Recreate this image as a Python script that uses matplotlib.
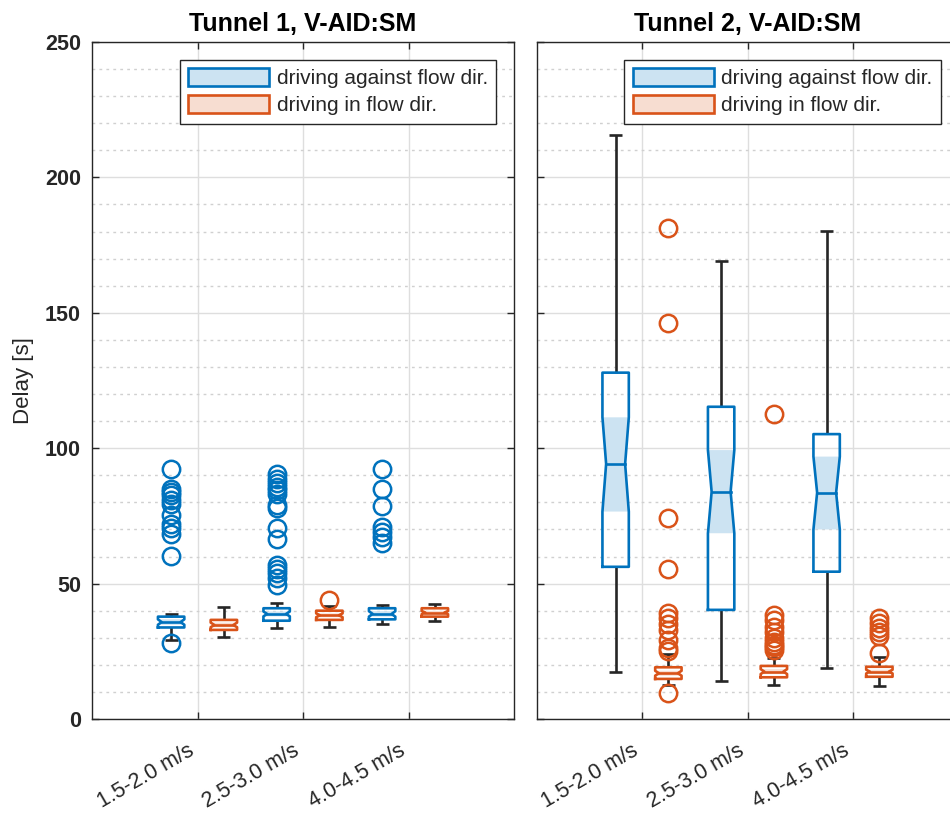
import matplotlib
matplotlib.use("Agg")
from matplotlib import pyplot as plt
from matplotlib.patches import Patch
from matplotlib.ticker import MultipleLocator
from matplotlib.transforms import ScaledTranslation

plt.rcParams['font.family'] = ['Liberation Sans', 'DejaVu Sans']

blue = '#0072BD'
orange = '#D95319'
blue_fill = '#CCE3F2'
orange_fill = '#F7DDD1'
dark = '#262626'

categories = ['1.5-2.0 m/s', '2.5-3.0 m/s', '4.0-4.5 m/s']
titles = ['Tunnel 1, V-AID:SM', 'Tunnel 2, V-AID:SM']
series_names = ['driving against flow dir.', 'driving in flow dir.']

# box summaries, per panel, per speed class
# tunnel 1, against flow
t1_against_q1 = [33.8, 36.3, 36.8]
t1_against_med = [35.8, 38.8, 38.8]
t1_against_q3 = [37.8, 40.9, 40.9]
t1_against_nlo = [34.8, 37.9, 37.8]
t1_against_nhi = [36.8, 39.7, 39.8]
t1_against_wlo = [29.2, 33.7, 35.1]
t1_against_whi = [38.6, 42.7, 42.1]
t1_against_out = [
    [28.0, 60.3, 68.5, 70.5, 72.0, 75.3, 79.5, 81.0, 82.7, 84.0, 85.0, 92.5],
    [49.5, 52.0, 54.0, 55.5, 57.0, 66.5, 70.5, 78.0, 79.0, 83.0, 84.5, 85.5, 87.0, 88.5, 90.5],
    [65.1, 67.3, 69.2, 70.8, 78.7, 84.8, 92.5],
]
# tunnel 1, in flow
t1_with_q1 = [32.9, 36.6, 37.8]
t1_with_med = [34.7, 38.3, 39.3]
t1_with_q3 = [36.6, 40.0, 40.9]
t1_with_nlo = [33.9, 37.6, 38.7]
t1_with_nhi = [35.6, 39.0, 39.9]
t1_with_wlo = [30.2, 34.1, 36.3]
t1_with_whi = [41.2, 41.8, 42.5]
t1_with_out = [[], [44.0], []]
# tunnel 2, against flow
t2_against_q1 = [56.2, 40.3, 54.4]
t2_against_med = [94.2, 83.9, 83.6]
t2_against_q3 = [127.9, 115.3, 105.2]
t2_against_nlo = [76.6, 68.6, 70.0]
t2_against_nhi = [111.4, 99.3, 96.9]
t2_against_wlo = [17.5, 14.0, 18.7]
t2_against_whi = [215.7, 169.1, 180.3]
t2_against_out = [[], [], []]
# tunnel 2, in flow
t2_with_q1 = [14.8, 15.4, 15.6]
t2_with_med = [16.9, 17.5, 17.5]
t2_with_q3 = [19.1, 19.6, 19.3]
t2_with_nlo = [16.0, 16.6, 16.8]
t2_with_nhi = [17.8, 18.4, 18.2]
t2_with_wlo = [12.5, 12.6, 12.2]
t2_with_whi = [23.9, 22.4, 22.8]
t2_with_out = [
    [9.5, 25.2, 26.1, 29.2, 32.9, 35.0, 37.2, 39.0, 55.4, 74.1, 146.3, 181.2],
    [25.5, 26.5, 27.3, 28.5, 29.8, 32.2, 34.1, 36.6, 38.4, 112.6],
    [24.5, 30.6, 32.2, 33.5, 35.3, 37.2],
]

panels = [
    [(t1_against_q1, t1_against_med, t1_against_q3, t1_against_nlo, t1_against_nhi,
      t1_against_wlo, t1_against_whi, t1_against_out),
     (t1_with_q1, t1_with_med, t1_with_q3, t1_with_nlo, t1_with_nhi,
      t1_with_wlo, t1_with_whi, t1_with_out)],
    [(t2_against_q1, t2_against_med, t2_against_q3, t2_against_nlo, t2_against_nhi,
      t2_against_wlo, t2_against_whi, t2_against_out),
     (t2_with_q1, t2_with_med, t2_with_q3, t2_with_nlo, t2_with_nhi,
      t2_with_wlo, t2_with_whi, t2_with_out)],
]

box_w = 0.25
offsets = [-0.25, 0.25]
colors = [blue, orange]
fills = [blue_fill, orange_fill]
lw = 1.9


def draw_box(ax, x, q1, med, q3, nlo, nhi, wlo, whi, outs, col, fcol):
    l, r = x - box_w / 2, x + box_w / 2
    nl, nr = x - box_w / 2 * 0.72, x + box_w / 2 * 0.72
    # notch shading
    ax.fill([l, r, nr, r, l, nl], [nhi, nhi, med, nlo, nlo, med],
            color=fcol, lw=0, zorder=2)
    # whiskers and caps
    ax.vlines(x, q3, whi, color=dark, lw=lw, zorder=3)
    ax.vlines(x, wlo, q1, color=dark, lw=lw, zorder=3)
    ax.hlines([wlo, whi], x - box_w / 4, x + box_w / 4, color=dark, lw=lw, zorder=3)
    # notched outline
    ax.plot([l, r, r, nr, r, r, l, l, nl, l, l],
            [q1, q1, nlo, med, nhi, q3, q3, nhi, med, nlo, q1],
            color=col, lw=lw, zorder=4)
    ax.plot([nl, nr], [med, med], color=col, lw=lw, zorder=4)
    if outs:
        ax.plot([x] * len(outs), outs, 'o', ms=12.5, mfc='none', mec=col,
                mew=1.8, zorder=5, clip_on=False)


fig = plt.figure(figsize=(9.5, 8.15), dpi=100)
ax1 = fig.add_axes([92 / 950, 1 - 719 / 815, 422 / 950, 677 / 815])
ax2 = fig.add_axes([536.5 / 950, 1 - 719 / 815, 422 / 950, 677 / 815])

shift = ScaledTranslation(8 / 100, 0, fig.dpi_scale_trans)

for k, ax in enumerate([ax1, ax2]):
    for s, ser in enumerate(panels[k]):
        q1, med, q3, nlo, nhi, wlo, whi, outs = ser
        for i in range(len(categories)):
            draw_box(ax, i + 1 + offsets[s], q1[i], med[i], q3[i], nlo[i], nhi[i],
                     wlo[i], whi[i], outs[i], colors[s], fills[s])
    ax.set_xlim(0, 4)
    ax.set_ylim(0, 250)
    ax.set_xticks(range(1, len(categories) + 1))
    ax.set_xticklabels(categories, rotation=30, ha='right', va='top', fontsize=15.5,
                       color=dark)
    for lab in ax.get_xticklabels():
        lab.set_transform(lab.get_transform() + shift)
    ax.yaxis.set_major_locator(MultipleLocator(50))
    ax.yaxis.set_minor_locator(MultipleLocator(10))
    ax.tick_params(which='major', direction='in', top=True, right=True, length=5,
                   width=1, color=dark, pad=8)
    ax.tick_params(axis='x', pad=15)
    ax.tick_params(which='minor', length=0)
    ax.tick_params(axis='y', labelsize=15.5, labelcolor=dark)
    for lab in ax.get_yticklabels():
        lab.set_fontweight('bold')
    ax.grid(which='major', color='#dedede', lw=1, zorder=0)
    ax.grid(which='minor', axis='y', color='#d0d0d0', lw=1, ls=(0, (2, 3)), zorder=0)
    ax.set_axisbelow(True)
    for sp in ax.spines.values():
        sp.set_color(dark)
        sp.set_linewidth(1)
    ax.set_title(titles[k], fontsize=18, fontweight='bold', pad=8)
    handles = [Patch(facecolor=fills[j], edgecolor=colors[j], lw=lw, label=series_names[j])
               for j in range(2)]
    leg = ax.legend(handles=handles, loc='upper right', fontsize=15, frameon=True,
                    fancybox=False, edgecolor=dark, framealpha=1, handlelength=3.9,
                    handleheight=0.95, handletextpad=0.35, borderpad=0.4, labelspacing=0.33,
                    borderaxespad=0.85)
    leg.get_frame().set_linewidth(1)
    for t in leg.get_texts():
        t.set_color(dark)

ax2.tick_params(axis='y', labelleft=False)
ax1.set_ylabel('Delay [s]', fontsize=16, color=dark, labelpad=8)

fig.savefig('out.png', dpi=100)
